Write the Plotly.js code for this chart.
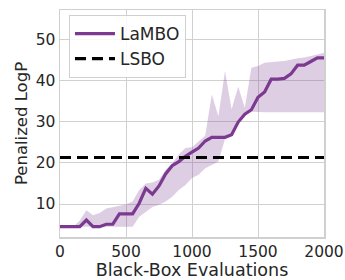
<!DOCTYPE html>
<html>
<head>
<meta charset="utf-8">
<script src="https://cdn.plot.ly/plotly-3.0.1.min.js"></script>
<style>html,body{margin:0;padding:0;background:#fff;}#chart{width:345px;height:280px;}</style>
</head>
<body>
<div id="chart"></div>
<script>
const evals = [0,50,100,150,200,250,300,350,400,450,500,550,600,650,700,750,800,850,900,950,1000,1050,1100,1150,1200,1250,1300,1350,1400,1450,1500,1550,1600,1650,1700,1750,1800,1850,1900,1950,2000];
const lamboMean = [4.5,4.5,4.5,4.5,6.1,4.5,4.5,5.1,5.1,7.6,7.6,7.6,10.2,13.8,12.4,14.4,17.3,19.3,20.3,21.6,22.6,23.6,25.3,26.2,26.2,26.2,26.8,29.9,31.8,32.9,35.9,37.2,40.3,40.3,40.5,41.6,43.7,43.7,44.6,45.5,45.5];
const lamboUpper = [4.5,4.5,4.5,6.0,8.5,7.3,7.8,8.9,9.2,9.5,9.9,10.6,13.4,15.0,15.2,15.9,18.3,19.9,22.0,23.6,23.8,25.2,26.6,36.6,31.3,42.3,33.0,38.5,33.4,43.1,43.5,44.3,44.5,44.6,44.7,45.1,45.4,45.6,45.9,46.3,46.7];
const lamboLower = [4.5,4.5,4.5,4.5,4.5,4.5,4.5,4.5,4.5,4.5,4.5,4.5,6.9,8.1,9.3,9.8,10.6,11.8,13.4,14.6,16.3,17.1,18.7,19.5,20.3,25.8,27.0,29.5,31.6,32.4,32.3,32.3,32.3,32.3,32.3,32.3,32.3,32.3,32.3,32.3,32.3];
const lsboValue = 21.3;
const xTicks = [0,500,1000,1500,2000];
const yTicks = [10,20,30,40,50];

const purple = '#7b3a8f';
const traces = [
  {x: evals, y: lamboLower, mode: 'lines', line: {width: 0, color: purple}, showlegend: false, hoverinfo: 'skip'},
  {x: evals, y: lamboUpper, mode: 'lines', line: {width: 0, color: purple}, fill: 'tonexty', fillcolor: 'rgba(123,58,143,0.25)', showlegend: false, hoverinfo: 'skip'},
  {x: evals, y: lamboMean, mode: 'lines', name: 'LaMBO', line: {width: 3.2, color: purple}},
  {x: [evals[0], evals[evals.length-1]], y: [lsboValue, lsboValue], mode: 'lines', name: 'LSBO', line: {width: 3.2, color: '#000', dash: '11px,6px'}}
];
const layout = {
  width: 345, height: 280,
  margin: {l: 60, r: 21, t: 10, b: 43},
  paper_bgcolor: '#fff', plot_bgcolor: '#fff',
  font: {family: 'DejaVu Sans', size: 16, color: '#262626'},
  xaxis: {range: [0, 2000], tickvals: xTicks, ticktext: xTicks.map(String), showgrid: true, gridcolor: '#d0d0d0', gridwidth: 1,
    showline: true, mirror: true, linecolor: '#d0d0d0', linewidth: 1.5, zeroline: false, ticks: '', automargin: false,
    title: {text: 'Black-Box Evaluations', font: {size: 17.5}, standoff: 3}, tickfont: {size: 15.5}},
  yaxis: {range: [2, 57.1], tickvals: yTicks, ticktext: yTicks.map(String), showgrid: true, gridcolor: '#d0d0d0', gridwidth: 1,
    showline: true, mirror: true, linecolor: '#d0d0d0', linewidth: 1.5, zeroline: false, ticks: '', automargin: false,
    title: {text: 'Penalized LogP', font: {size: 16.5}, standoff: 4}, tickfont: {size: 15.5}},
  legend: {x: 0.034, y: 0.978, xanchor: 'left', yanchor: 'top', traceorder: 'normal', bgcolor: 'rgba(255,255,255,0.85)', bordercolor: '#d0d0d0', borderwidth: 1, font: {size: 17}, itemwidth: 40},
  showlegend: true
};
Plotly.newPlot('chart', traces, layout, {staticPlot: true, displayModeBar: false});
</script>
</body>
</html>
